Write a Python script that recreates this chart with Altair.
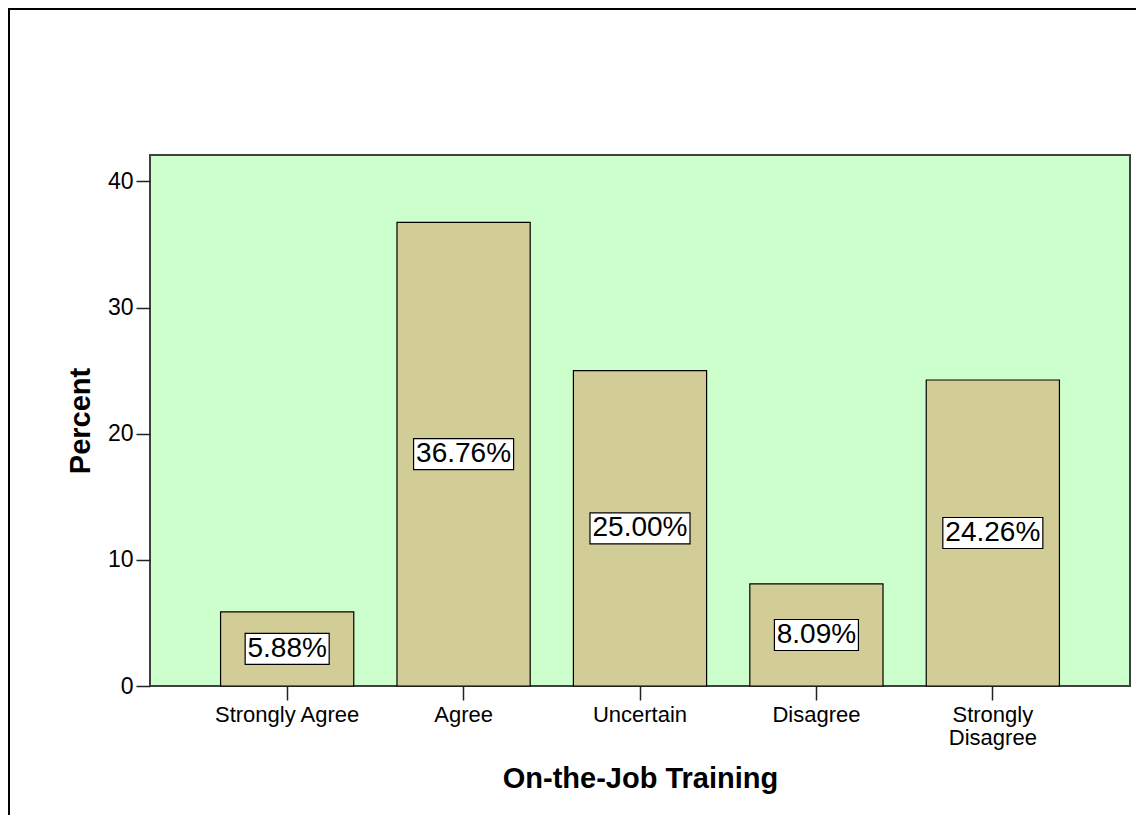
import altair as alt
import pandas as pd

categories = ["Strongly Agree", "Agree", "Uncertain", "Disagree", "Strongly Disagree"]
percents = [5.88, 36.76, 25.00, 8.09, 24.26]
labels = ["5.88%", "36.76%", "25.00%", "8.09%", "24.26%"]

df = pd.DataFrame({"cat": categories, "pct": percents, "label": labels})

FONT = "Liberation Sans"
W, H = 980, 531
PL, PT, PR, PB = 142, 147, 6, 129

x = alt.X(
    "cat:N",
    sort=categories,
    scale=alt.Scale(paddingInner=0.245, paddingOuter=0.40),
    axis=alt.Axis(
        title="On-the-Job Training",
        labelAngle=0,
        labelFontSize=22,
        labelFont=FONT,
        labelColor="black",
        labelPadding=4,
        labelLineHeight=23,
        labelExpr="datum.value == 'Strongly Disagree' ? ['Strongly', 'Disagree'] : datum.value",
        tickSize=14,
        tickColor="#222",
        tickWidth=1.5,
        domain=False,
        titleFontSize=29,
        titleFont=FONT,
        titleFontWeight="bold",
        titleColor="black",
        titlePadding=16,
    ),
)

y_scale = alt.Scale(domain=[0, 42.1], nice=False, zero=True)

bars = alt.Chart(df).mark_bar(
    fill="#D2CC96", stroke="black", strokeWidth=1.2
).encode(
    x=x,
    y=alt.Y(
        "pct:Q",
        scale=y_scale,
        axis=alt.Axis(
            title="Percent",
            values=[0, 10, 20, 30, 40],
            grid=False,
            labelFontSize=23,
            labelFont=FONT,
            labelColor="black",
            labelPadding=3,
            tickSize=14,
            tickColor="#222",
            tickWidth=1.5,
            domain=False,
            titleFontSize=29,
            titleFont=FONT,
            titleFontWeight="bold",
            titleColor="black",
            titlePadding=12,
        ),
    ),
)

base = alt.Chart(df).transform_calculate(
    mid="datum.pct / 2",
    bw="16 * length(datum.label) + 4",
)

boxes = base.mark_tick(
    thickness=31, fill="white", stroke="black", strokeWidth=1.2, opacity=1
).encode(
    x=alt.X("cat:N", sort=categories),
    y=alt.Y("mid:Q", scale=y_scale),
    size=alt.Size("bw:Q", scale=None),
)

texts = base.mark_text(
    fontSize=28, font=FONT, color="black", baseline="middle", align="center"
).encode(
    x=alt.X("cat:N", sort=categories),
    y=alt.Y("mid:Q", scale=y_scale),
    text="label:N",
)

frame_df = pd.DataFrame({"a": [0]})
left_line = alt.Chart(frame_df).mark_rule(color="black", strokeWidth=2).encode(
    x=alt.value(-141),
    y=alt.value(-146),
    y2=alt.value(H + PB),
)
top_line = alt.Chart(frame_df).mark_rule(color="black", strokeWidth=2).encode(
    x=alt.value(-142),
    x2=alt.value(W + PR),
    y=alt.value(-146),
)

chart = alt.layer(bars, boxes, texts, left_line, top_line).properties(
    width=W,
    height=H,
    autosize=alt.AutoSizeParams(type="none"),
    padding={"left": PL, "top": PT, "right": PR, "bottom": PB},
    background="white",
).configure_view(
    fill="#CCFFCC", stroke="#404040", strokeWidth=2
)

chart.save("out.html", embed_options={"renderer": "svg", "actions": False})
